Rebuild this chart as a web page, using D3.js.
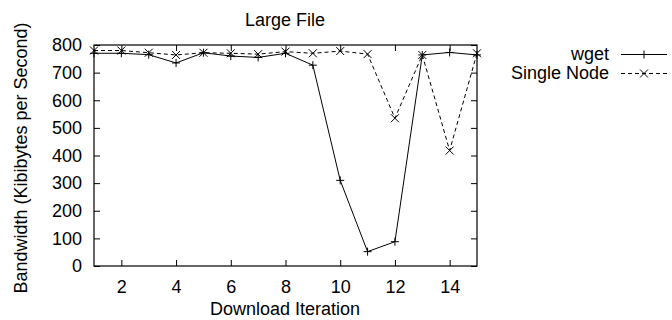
<!DOCTYPE html>
<html>
<head>
<meta charset="utf-8">
<script src="https://cdn.jsdelivr.net/npm/d3@7"></script>
<style>
  body { margin: 0; background: #fff; }
  text { font-family: "Liberation Sans", Arial, sans-serif; font-size: 18px; fill: #000; }
</style>
</head>
<body>
<svg id="chart" width="672" height="320"></svg>
<script>
const iterations = [1, 2, 3, 4, 5, 6, 7, 8, 9, 10, 11, 12, 13, 14, 15];
const wget = [770, 770, 765, 735, 772, 760, 755, 770, 727, 310, 52, 88, 764, 773, 764];
const singleNode = [780, 780, 772, 764, 772, 770, 767, 776, 770, 778, 767, 535, 764, 418, 770];
const xTicks = [2, 4, 6, 8, 10, 12, 14];
const yTicks = [0, 100, 200, 300, 400, 500, 600, 700, 800];

const margin = { top: 45, right: 195, bottom: 54, left: 94 };
const width = 672 - margin.left - margin.right;
const height = 320 - margin.top - margin.bottom;

const svg = d3.select('#chart');
const g = svg.append('g').attr('transform', `translate(${margin.left},${margin.top})`);

const x = d3.scaleLinear().domain([1, 15]).range([0, width]);
const y = d3.scaleLinear().domain([0, 800]).range([height, 0]);

// inward ticks on all four sides
g.append('g')
  .attr('transform', `translate(0,${height})`)
  .call(d3.axisBottom(x).tickValues(xTicks).tickSizeInner(-6).tickSizeOuter(0).tickPadding(14))
  .call(a => a.select('.domain').remove());
g.append('g')
  .call(d3.axisTop(x).tickValues(xTicks).tickSizeInner(-6).tickSizeOuter(0).tickFormat(''))
  .call(a => a.select('.domain').remove());
g.append('g')
  .call(d3.axisLeft(y).tickValues(yTicks).tickSizeInner(-6).tickSizeOuter(0).tickPadding(12))
  .call(a => a.select('.domain').remove());
g.append('g')
  .attr('transform', `translate(${width},0)`)
  .call(d3.axisRight(y).tickValues(yTicks).tickSizeInner(-6).tickSizeOuter(0).tickFormat(''))
  .call(a => a.select('.domain').remove());

g.selectAll('.tick line').attr('stroke', '#000');
g.selectAll('.tick text').style('font-size', '18px').attr('font-family', null);

g.append('rect')
  .attr('width', width).attr('height', height)
  .attr('fill', 'none').attr('stroke', '#000').attr('stroke-width', 1.2);

const line = d3.line().x((d, i) => x(iterations[i])).y(d => y(d));

g.append('path').datum(wget)
  .attr('d', line).attr('fill', 'none').attr('stroke', '#000').attr('stroke-width', 1);
g.append('path').datum(singleNode)
  .attr('d', line).attr('fill', 'none').attr('stroke', '#000').attr('stroke-width', 1)
  .attr('stroke-dasharray', '4,3');

const s = 4;
const plus = (px, py) => `M${px - s},${py}H${px + s}M${px},${py - s}V${py + s}`;
const cross = (px, py) => `M${px - s},${py - s}L${px + s},${py + s}M${px - s},${py + s}L${px + s},${py - s}`;

g.selectAll('.wgetPt').data(wget).enter().append('path')
  .attr('d', (d, i) => plus(x(iterations[i]), y(d)))
  .attr('stroke', '#000').attr('stroke-width', 1);
g.selectAll('.snPt').data(singleNode).enter().append('path')
  .attr('d', (d, i) => cross(x(iterations[i]), y(d)))
  .attr('stroke', '#000').attr('stroke-width', 1);

// legend
const legend = svg.append('g');
const rows = [
  { name: 'wget', dash: null, mark: plus },
  { name: 'Single Node', dash: '4,3', mark: cross }
];
rows.forEach((r, i) => {
  const ly = 54.5 + i * 19;
  legend.append('text').attr('x', 609).attr('y', ly + 5.5).attr('text-anchor', 'end').text(r.name);
  legend.append('line').attr('x1', 621).attr('x2', 667).attr('y1', ly).attr('y2', ly)
    .attr('stroke', '#000').attr('stroke-dasharray', r.dash);
  legend.append('path').attr('d', r.mark(644, ly)).attr('stroke', '#000');
});

svg.append('text').attr('x', 285).attr('y', 26).attr('text-anchor', 'middle').text('Large File');
svg.append('text').attr('x', 285).attr('y', 315).attr('text-anchor', 'middle').text('Download Iteration');
svg.append('text')
  .attr('transform', 'translate(27,158) rotate(-90)')
  .attr('text-anchor', 'middle')
  .text('Bandwidth (Kibibytes per Second)');
</script>
</body>
</html>
